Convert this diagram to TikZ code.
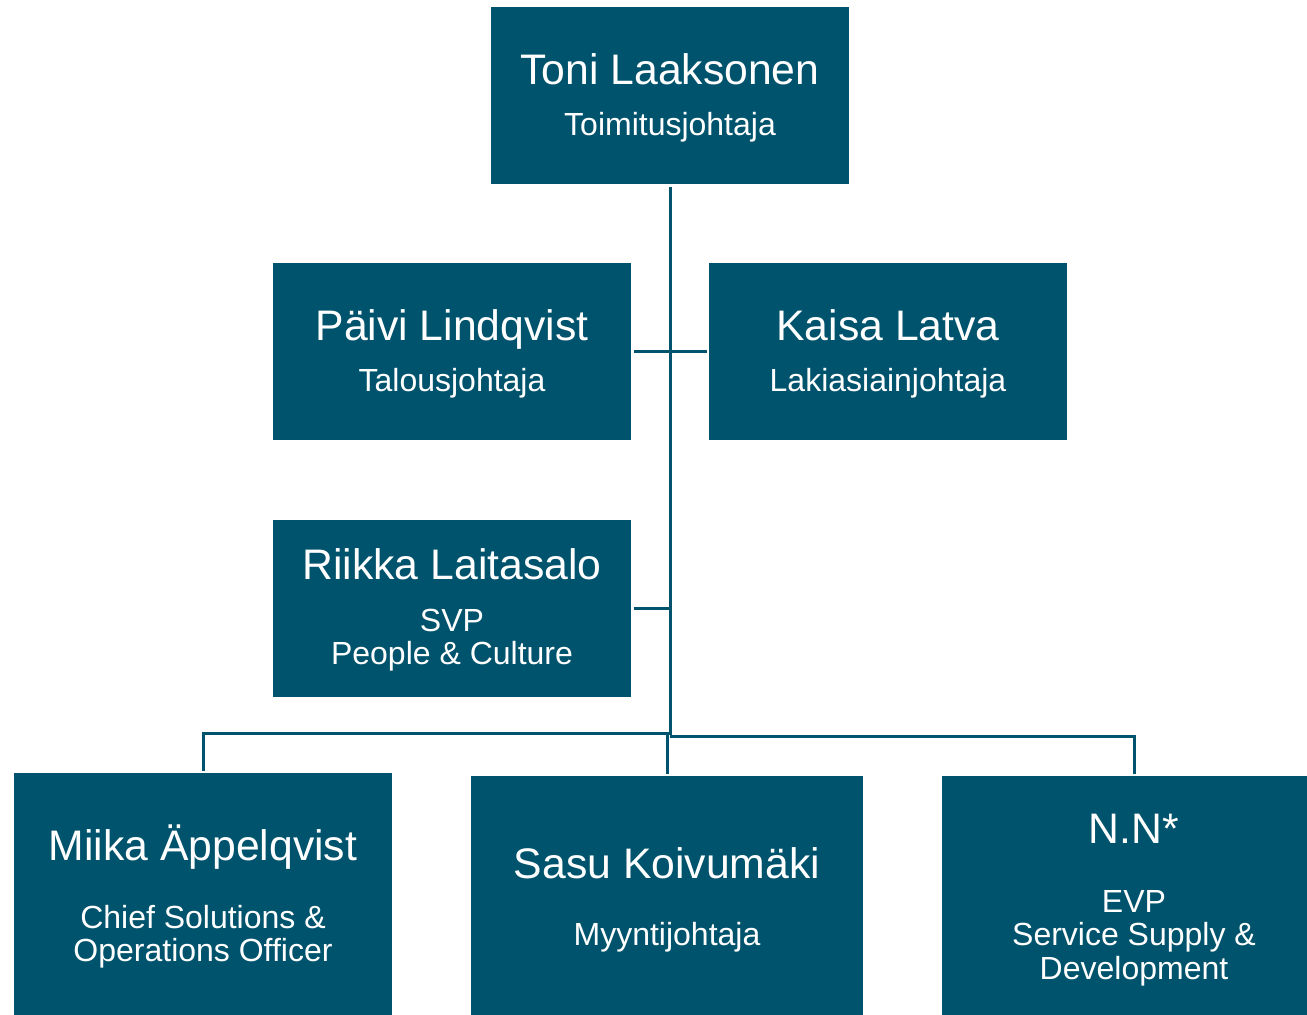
\documentclass[tikz,border=0pt]{standalone}
\usepackage{fontspec}
\setmainfont{Liberation Sans}
\definecolor{petrol}{RGB}{0,83,108}

\begin{document}
\begin{tikzpicture}[
x=1pt, y=-1pt,
  box/.style = {fill=petrol, inner sep=0pt, outer sep=2.5pt,
                minimum width=#1, minimum height=177},% boxes of the chart
  box/.default = 358,
   nm/.style = {text=white, anchor=base, inner sep=0pt,
                font=\fontsize{42.7}{48}\selectfont},% person
   rl/.style = {text=white, anchor=base, inner sep=0pt,
                font=\fontsize{32}{33.5}\selectfont},% title
   ln/.style = {draw=petrol, line width=3pt},
                        ]
\useasboundingbox (0,0) rectangle (1307,1015);
\clip (0,0) rectangle (1307,1015);

%Boxes
\node[box] (toni)   at (670,95.5)  {};
\node[box] (paivi)  at (452,351.5) {};
\node[box] (kaisa)  at (888,351.5) {};
\node[box] (riikka) at (452,608)   {};
\node[box=378, minimum height=242] (miika) at (203,894)    {};
\node[box=392, minimum height=239] (sasu)  at (667,895.5)  {};
\node[box=384, minimum height=239] (nn)    at (1134,895.5) {};

%Texts
\node[nm] (toniN)   at (670,84)   {Toni Laaksonen};
\node[rl] (toniR)   at (670,135)  {Toimitusjohtaja};
\node[nm] (paiviN)  at (452,340)  {Päivi Lindqvist};
\node[rl] (paiviR)  at (452,391)  {Talousjohtaja};
\node[nm] (kaisaN)  at (888,340)  {Kaisa Latva};
\node[rl] (kaisaR)  at (888,391)  {Lakiasiainjohtaja};
\node[nm] (riikkaN) at (452,579)  {Riikka Laitasalo};
\node[rl] (riikkaR) at (452,631)  {\begin{tabular}[t]{@{}c@{}}SVP\\ People \& Culture\end{tabular}};
\node[nm] (miikaN)  at (203,860)  {Miika Äppelqvist};
\node[rl] (miikaR)  at (203,928)  {\begin{tabular}[t]{@{}c@{}}Chief Solutions \&\\ Operations Officer\end{tabular}};
\node[nm] (sasuN)   at (667,878)  {Sasu Koivumäki};
\node[rl] (sasuR)   at (667,945)  {Myyntijohtaja};
\node[nm] (nnN)     at (1134,843) {N.N*};
\node[rl] (nnR)     at (1134,912) {\begin{tabular}[t]{@{}c@{}}EVP\\ Service Supply \&\\ Development\end{tabular}};

%Lines
\coordinate (hub)  at (670,735);
\coordinate (busL) at (669,733);
\coordinate (busR) at (670,736);
\draw[ln] (toni.south) -- (hub);
\draw[ln] (paivi.east) -- (kaisa.west);
\draw[ln] (riikka.east) -- (riikka.east -| hub);
\draw[ln] (miika.north) |- (busL);
\draw[ln] (sasu.north) -- (sasu.north |- busL);
\draw[ln] (nn.north) |- (busR);

\end{tikzpicture}
\end{document}
